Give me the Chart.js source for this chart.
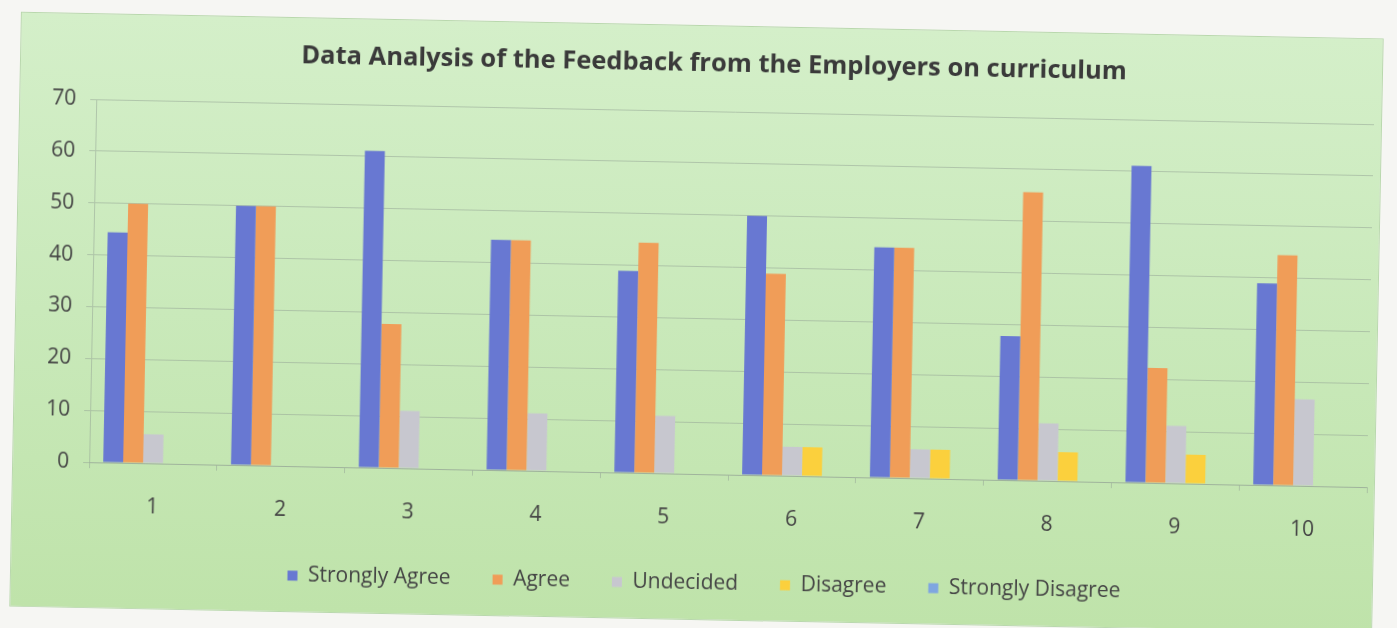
<!DOCTYPE html>
<html>
<head>
<meta charset="utf-8">
<script src="https://cdn.jsdelivr.net/npm/chart.js@4"></script>
<style>
  html, body { margin: 0; padding: 0; background: #f6f6f3; width: 1397px; height: 628px; overflow: hidden; }
  #box {
    position: absolute; left: 15px; top: 25px; width: 1363px; height: 595px;
    background: linear-gradient(to bottom, #d4efc9 0%, #c9e9ba 50%, #bfe3aa 100%);
    transform: rotate(1.12deg); transform-origin: 50% 50%;
    border: 1px solid #b9d8ad; box-sizing: border-box;
  }
  canvas { display: block; }
</style>
</head>
<body>
<div id="box"><canvas id="c" width="1361" height="593"></canvas></div>
<script>
const categories = ['1', '2', '3', '4', '5', '6', '7', '8', '9', '10'];
const seriesNames = ['Strongly Agree', 'Agree', 'Undecided', 'Disagree', 'Strongly Disagree'];
const stronglyAgree    = [44.4, 50.0, 61.1, 44.4, 38.9, 50.0, 44.4, 27.8, 61.1, 38.9];
const agree            = [50.0, 50.0, 27.8, 44.4, 44.4, 38.9, 44.4, 55.6, 22.2, 44.4];
const undecided        = [5.6, 0, 11.1, 11.1, 11.1, 5.6, 5.6, 11.1, 11.1, 16.7];
const disagree         = [0, 0, 0, 0, 0, 5.6, 5.6, 5.6, 5.6, 0];
const stronglyDisagree = [0, 0, 0, 0, 0, 0, 0, 0, 0, 0];
const yTicks = [0, 10, 20, 30, 40, 50, 60, 70];
const titleText = 'Data Analysis of the Feedback from the Employers on curriculum';

const colors = ['#6878d2', '#f09d58', '#c7c7cf', '#fbd03d', '#7fa6e0'];
const seriesValues = [stronglyAgree, agree, undecided, disagree, stronglyDisagree];

const gridColor = 'rgba(150,165,150,0.55)';
const textColor = '#444444';
const FONT = '"Open Sans", sans-serif';

new Chart(document.getElementById('c'), {
  type: 'bar',
  data: {
    labels: categories,
    datasets: seriesNames.map((n, i) => ({
      label: n,
      data: seriesValues[i],
      backgroundColor: colors[i],
      borderWidth: 0,
      barPercentage: 1.0,
      categoryPercentage: 0.78
    }))
  },
  options: {
    responsive: false,
    animation: false,
    devicePixelRatio: 1,
    layout: { padding: { left: 32, right: 7, top: 0, bottom: 15 } },
    plugins: {
      title: {
        display: true, text: titleText, color: '#3a3a3a',
        font: { family: FONT, size: 25.5, weight: 'bold' },
        padding: { top: 22, bottom: 32.5 }
      },
      legend: {
        position: 'bottom',
        labels: {
          color: textColor, boxWidth: 10, boxHeight: 10, padding: 42,
          font: { family: FONT, size: 21 }
        }
      },
      tooltip: { enabled: false }
    },
    scales: {
      x: {
        grid: { display: true, drawOnChartArea: false, color: gridColor, tickLength: 6 },
        border: { display: true, color: gridColor, width: 1 },
        ticks: { color: textColor, font: { family: FONT, size: 21 }, padding: 25 },
        afterFit(s) { s.height = 57; }
      },
      y: {
        min: 0, max: 70,
        afterBuildTicks(s) { s.ticks = yTicks.map(v => ({ value: v })); },
        grid: { color: gridColor, tickLength: 6 },
        border: { display: true, color: gridColor, width: 1 },
        ticks: { color: textColor, font: { family: FONT, size: 21 }, padding: 14 },
        afterFit(s) { s.width = 44; }
      }
    }
  }
});
</script>
</body>
</html>
